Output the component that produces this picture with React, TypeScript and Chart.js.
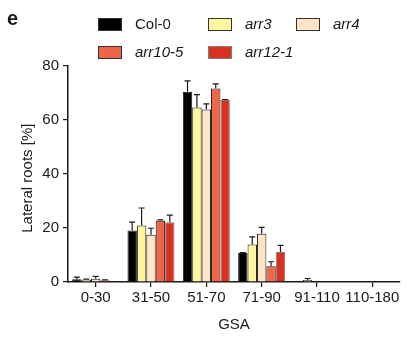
import React, { useEffect, useRef } from "react";
import { Chart, registerables } from "chart.js";

Chart.register(...registerables);

// GSA bins on the x axis
const categories = ["0-30", "31-50", "51-70", "71-90", "91-110", "110-180"];

// Lateral roots [%] per genotype, with upper error (SD)
const col0 = [1.0, 19.1, 70.5, 10.7, 0, 0];
const col0Err = [0.8, 3.1, 4.0, 0.2, 0, 0];
const arr3 = [0.8, 20.9, 64.6, 13.9, 0.7, 0];
const arr3Err = [0.3, 6.5, 4.8, 2.8, 0.6, 0];
const arr4 = [1.2, 17.5, 63.9, 17.9, 0, 0];
const arr4Err = [0.9, 2.4, 2.1, 2.3, 0, 0];
const arr10_5 = [0.6, 22.7, 71.7, 5.8, 0, 0];
const arr10_5Err = [0.2, 0.3, 1.7, 1.7, 0, 0];
const arr12_1 = [0.2, 22.1, 67.4, 11.1, 0, 0];
const arr12_1Err = [0, 2.7, 0.2, 2.5, 0, 0];

const yTicks = [0, 20, 40, 60, 80];

const FONT = "'Liberation Sans', Arial, Helvetica, sans-serif";
const INK = "#1a1a1a";

const series = [
  { label: "Col-0", values: col0, err: col0Err, fill: "#000000", edge: "#1a1a1a", italic: false },
  { label: "arr3", values: arr3, err: arr3Err, fill: "#FFF69E", edge: "#1a1a1a", italic: true },
  { label: "arr4", values: arr4, err: arr4Err, fill: "#FFE5C6", edge: "#1a1a1a", italic: true },
  { label: "arr10-5", values: arr10_5, err: arr10_5Err, fill: "#EE6548", edge: "#1a1a1a", italic: true },
  { label: "arr12-1", values: arr12_1, err: arr12_1Err, fill: "#D7311F", edge: "#7d7d7d", italic: true },
];

// Upper error whiskers with caps, placed on the bar elements
const errorBars = {
  id: "errorBars",
  afterDatasetsDraw(chart: any) {
    const { ctx } = chart;
    const y = chart.scales.y;
    ctx.save();
    ctx.strokeStyle = INK;
    ctx.lineWidth = 1.2;
    series.forEach((s, i) => {
      const meta = chart.getDatasetMeta(i);
      meta.data.forEach((bar: any, j: number) => {
        const e = s.err[j];
        if (!e) return;
        const top = y.getPixelForValue(s.values[j] + e);
        ctx.beginPath();
        ctx.moveTo(bar.x, bar.y);
        ctx.lineTo(bar.x, top);
        ctx.moveTo(bar.x - 3, top);
        ctx.lineTo(bar.x + 3, top);
        ctx.stroke();
      });
    });
    ctx.restore();
  },
};

function LegendItem({ s, left, top }: { s: any; left: number; top: number }) {
  return (
    <div style={{ position: "absolute", left, top, height: 14, display: "flex", alignItems: "center" }}>
      <div
        style={{
          width: 24,
          height: 13,
          boxSizing: "border-box",
          background: s.fill,
          border: `1.5px solid ${s.edge === "#1a1a1a" ? "#333" : s.edge}`,
        }}
      />
      <span
        style={{
          marginLeft: 13,
          fontFamily: FONT,
          fontSize: 15,
          fontStyle: s.italic ? "italic" : "normal",
          color: INK,
          lineHeight: "14px",
          whiteSpace: "nowrap",
        }}
      >
        {s.label}
      </span>
    </div>
  );
}

export default function App() {
  const ref = useRef<HTMLCanvasElement | null>(null);

  useEffect(() => {
    if (!ref.current) return;
    const chart = new Chart(ref.current, {
      type: "bar",
      data: {
        labels: categories,
        datasets: series.map((s) => ({
          label: s.label,
          data: s.values,
          backgroundColor: s.fill,
          borderColor: s.edge,
          borderWidth: 1,
          categoryPercentage: 0.85,
          barPercentage: 1,
        })),
      },
      options: {
        responsive: false,
        animation: false,
        layout: { padding: { top: 66, right: 7, bottom: 0, left: 0 } },
        plugins: { legend: { display: false }, tooltip: { enabled: false } },
        scales: {
          x: {
            afterFit: (s: any) => {
              s.height = 55;
            },
            grid: { display: true, drawOnChartArea: false, drawTicks: true, tickLength: 5, color: INK, lineWidth: 1.2, offset: false },
            border: { display: true, color: INK, width: 1.5 },
            ticks: { color: INK, font: { family: FONT, size: 15 }, padding: 2, maxRotation: 0, autoSkip: false },
            title: { display: true, text: "GSA", color: INK, font: { family: FONT, size: 15 }, padding: { top: 0, bottom: 3 } },
          },
          y: {
            min: 0,
            max: 80,
            afterFit: (s: any) => {
              s.width = 68;
            },
            afterBuildTicks: (s: any) => {
              s.ticks = yTicks.map((v) => ({ value: v }));
            },
            grid: { display: true, drawOnChartArea: false, drawTicks: true, tickLength: 5, color: INK, lineWidth: 1.2 },
            border: { display: true, color: INK, width: 1.5 },
            ticks: { color: INK, font: { family: FONT, size: 15 }, padding: 4 },
            title: {
              display: true,
              text: "Lateral roots [%]  ",
              color: INK,
              font: { family: FONT, size: 15 },
              padding: { top: 19, bottom: 0 },
            },
          },
        },
      },
      plugins: [errorBars],
    });
    return () => chart.destroy();
  }, []);

  return (
    <div style={{ position: "absolute", left: 0, top: 0, width: 407, height: 337, background: "#fff" }}>
      <canvas ref={ref} width={407} height={337} style={{ position: "absolute", left: 0, top: 0 }} />
      <div
        style={{
          position: "absolute",
          left: 7,
          top: 7,
          fontFamily: FONT,
          fontWeight: "bold",
          fontSize: 20,
          color: INK,
        }}
      >
        e
      </div>
      <LegendItem s={series[0]} left={98} top={17} />
      <LegendItem s={series[1]} left={208} top={17} />
      <LegendItem s={series[2]} left={296} top={17} />
      <LegendItem s={series[3]} left={98} top={45} />
      <LegendItem s={series[4]} left={208} top={45} />
    </div>
  );
}
